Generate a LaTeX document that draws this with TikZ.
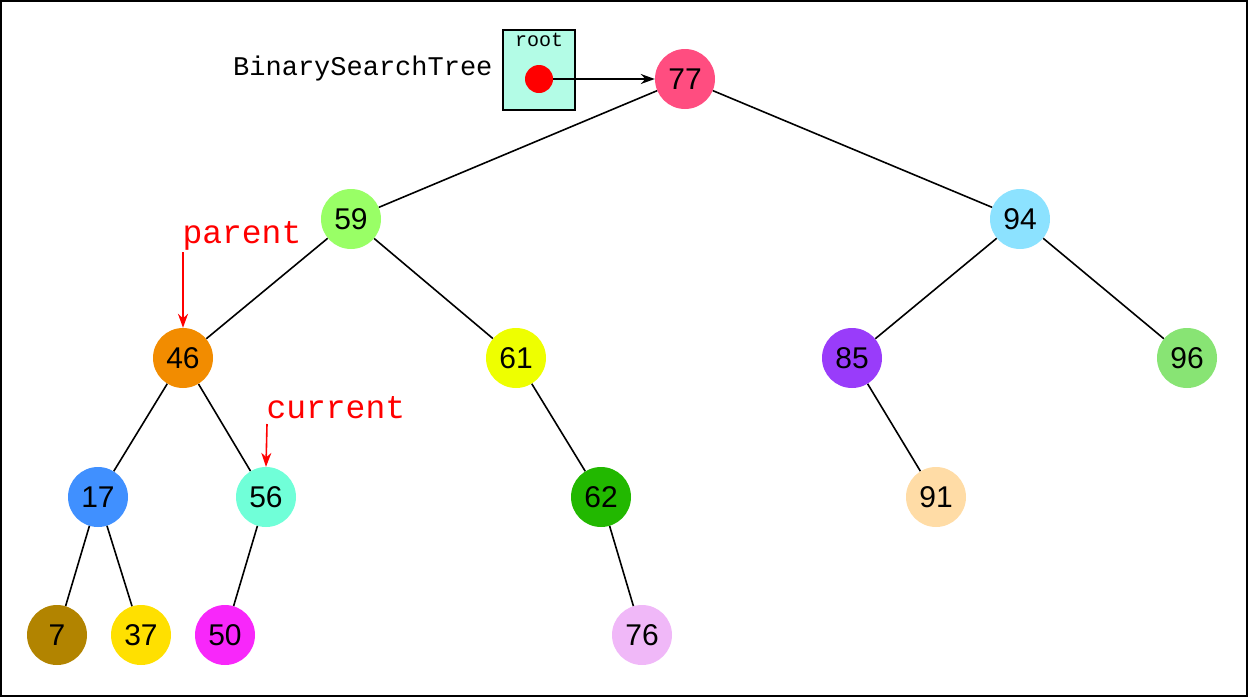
\documentclass[tikz,border=0pt]{standalone}
\usepackage{fontspec}
\setmainfont{Liberation Sans}
\setmonofont{Liberation Mono}
\usetikzlibrary{arrows.meta}
\definecolor{boxfill}{HTML}{B3FCE6}
\tikzset{
  key/.style={circle, minimum size=60pt, inner sep=0pt, font=\fontsize{30}{30}\selectfont},
  link/.style={line width=1.6pt},
  pointer/.style={line width=1.6pt, -{Stealth[length=14pt, width=10pt]}},
  marker/.style={red, font=\ttfamily\fontsize{33}{33}\selectfont}
}
\begin{document}
\begin{tikzpicture}[x=1pt, y=-1pt]
  \useasboundingbox (0,0) rectangle (1248,697);
  \draw[line width=2pt] (1,1) rectangle (1247,696);
  % the tree object and its root field
  \node[anchor=east, font=\ttfamily\fontsize{27}{27}\selectfont] (bst) at (496,69) {BinarySearchTree};
  \node[draw, line width=1.6pt, fill=boxfill, minimum width=72pt, minimum height=80pt] (rootbox) at (539,70) {};
  \node[font=\ttfamily\fontsize{20}{20}\selectfont] (rootlbl) at (539,40) {root};
  \node[circle, fill=red, minimum size=28pt, inner sep=0pt] (rootdot) at (539,79) {};
  % keys
  \node[key, fill={rgb,255:red,255;green,77;blue,128}] (n77) at (685,79) {77};
  \node[key, fill={rgb,255:red,153;green,255;blue,102}] (n59) at (351,219) {59};
  \node[key, fill={rgb,255:red,140;green,226;blue,255}] (n94) at (1020,219) {94};
  \node[key, fill={rgb,255:red,242;green,140;blue,0}] (n46) at (183,358) {46};
  \node[key, fill={rgb,255:red,238;green,255;blue,0}] (n61) at (516,358) {61};
  \node[key, fill={rgb,255:red,153;green,60;blue,250}] (n85) at (852,358) {85};
  \node[key, fill={rgb,255:red,136;green,228;blue,116}] (n96) at (1187,358) {96};
  \node[key, fill={rgb,255:red,64;green,144;blue,255}] (n17) at (98,497) {17};
  \node[key, fill={rgb,255:red,112;green,255;blue,216}] (n56) at (266,497) {56};
  \node[key, fill={rgb,255:red,34;green,184;blue,0}] (n62) at (601,497) {62};
  \node[key, fill={rgb,255:red,255;green,220;blue,166}] (n91) at (936,497) {91};
  \node[key, fill={rgb,255:red,178;green,132;blue,0}] (n7) at (57,635) {7};
  \node[key, fill={rgb,255:red,255;green,224;blue,0}] (n37) at (141,635) {37};
  \node[key, fill={rgb,255:red,248;green,39;blue,250}] (n50) at (225,635) {50};
  \node[key, fill={rgb,255:red,240;green,184;blue,248}] (n76) at (642,635) {76};
  % edges
  \foreach \a/\b in {77/59, 77/94, 59/46, 59/61, 94/85, 94/96, 46/17, 46/56,
                     61/62, 85/91, 17/7, 17/37, 56/50, 62/76}
    \draw[link] (n\a) -- (n\b);
  \draw[pointer] (rootdot) -- (n77);
  % cursors
  \node[marker, anchor=west] (parent) at (179,236) {parent};
  \node[marker, anchor=west] (current) at (263,408) {current};
  \coordinate (parenttail) at (183,252);
  \coordinate (currenttail) at (267,424);
  \draw[pointer, red] (parenttail) -- (n46.north);
  \draw[pointer, red] (currenttail) -- (n56.north);
\end{tikzpicture}
\end{document}
